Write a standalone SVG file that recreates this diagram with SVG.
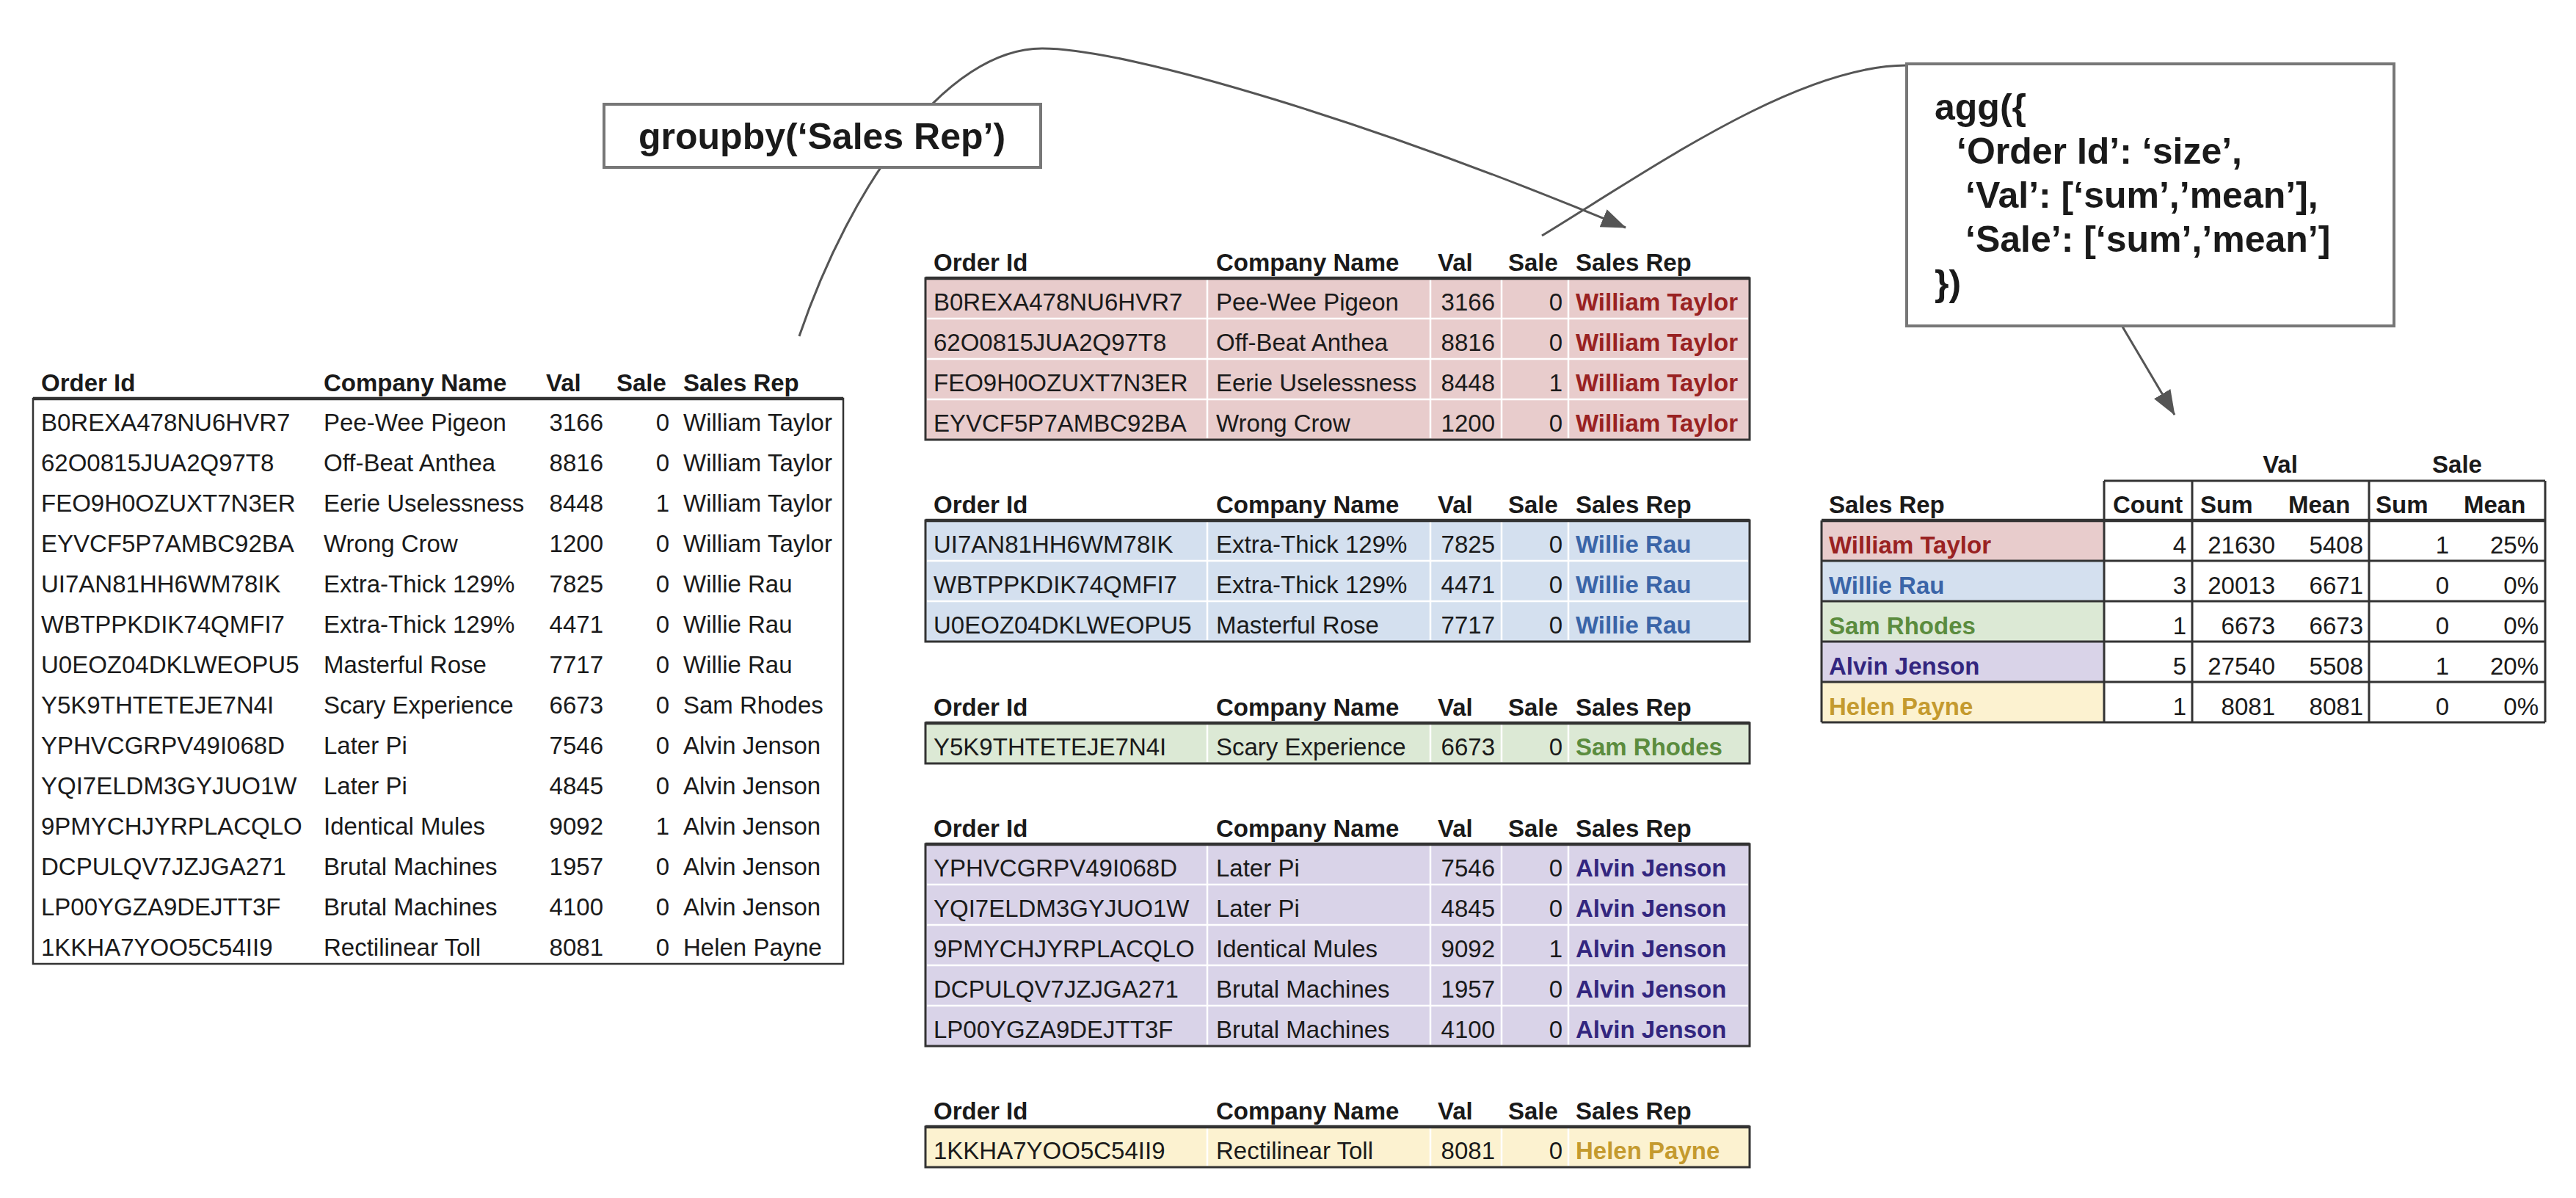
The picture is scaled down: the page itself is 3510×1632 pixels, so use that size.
<svg xmlns="http://www.w3.org/2000/svg" width="3510" height="1632" viewBox="0 0 3510 1632">
<style>
text{font-family:"Liberation Sans",Arial,Helvetica,sans-serif;font-size:33px;fill:#1a1a1a}
.h{font-weight:bold}
.e{text-anchor:end}
.m{text-anchor:middle}
.code{font-weight:bold;font-size:50px}
.wt{fill:#992222;font-weight:bold}
.wr{fill:#3a65a8;font-weight:bold}
.sr{fill:#5b8c3e;font-weight:bold}
.aj{fill:#33267f;font-weight:bold}
.hp{fill:#c49a2e;font-weight:bold}
.frame{fill:none;stroke:#333;stroke-width:3}
.top{stroke:#333;stroke-width:4.5}
.wl{stroke:#fff;stroke-width:2.5}
.dl{stroke:#333;stroke-width:3}
.conn{fill:none;stroke:#555;stroke-width:3}
.opbox{fill:#fff;stroke:#777;stroke-width:4}
</style>
<defs>
<marker id="arrow" markerUnits="userSpaceOnUse" markerWidth="34" markerHeight="26" viewBox="0 0 34 26" refX="33" refY="13" orient="auto">
<path d="M0,0 L34,13 L0,26 z" fill="#555"/>
</marker>
</defs>
<rect width="3510" height="1632" fill="#fff"/>

<g id="connectors">
<path class="conn" d="M1089,458 C1160,250 1290,66 1420,66 C1540,66 1880,170 2215,310" marker-end="url(#arrow)"/>
<path class="conn" d="M2101,321 C2250,230 2450,89 2598,89"/>
<path class="conn" d="M2892,445 L2963,565" marker-end="url(#arrow)"/>
</g>

<g id="groupby-box">
<rect class="opbox" x="823" y="142" width="595" height="86"/>
<text class="code" x="870" y="203">groupby(‘Sales Rep’)</text>
</g>

<g id="agg-box">
<rect class="opbox" x="2598" y="87" width="664" height="357"/>
<text class="code" x="2636" y="163">agg({</text>
<text class="code" x="2666" y="223">‘Order Id’: ‘size’,</text>
<text class="code" x="2678" y="283">‘Val’: [‘sum’,’mean’],</text>
<text class="code" x="2678" y="343">‘Sale’: [‘sum’,’mean’]</text>
<text class="code" x="2636" y="403">})</text>
</g>

<g id="source-table">
<rect x="45" y="543" width="1104" height="770" fill="#fff" stroke="#333" stroke-width="2.5"/>
<line class="top" x1="45" y1="543" x2="1149" y2="543" stroke-width="3"/>
<text class="h" x="56" y="533">Order Id</text>
<text class="h" x="441" y="533">Company Name</text>
<text class="h" x="744" y="533">Val</text>
<text class="h" x="840" y="533">Sale</text>
<text class="h" x="931" y="533">Sales Rep</text>
<text x="56"><tspan x="56" y="587">B0REXA478NU6HVR7</tspan><tspan x="56" y="642">62O0815JUA2Q97T8</tspan><tspan x="56" y="697">FEO9H0OZUXT7N3ER</tspan><tspan x="56" y="752">EYVCF5P7AMBC92BA</tspan><tspan x="56" y="807">UI7AN81HH6WM78IK</tspan><tspan x="56" y="862">WBTPPKDIK74QMFI7</tspan><tspan x="56" y="917">U0EOZ04DKLWEOPU5</tspan><tspan x="56" y="972">Y5K9THTETEJE7N4I</tspan><tspan x="56" y="1027">YPHVCGRPV49I068D</tspan><tspan x="56" y="1082">YQI7ELDM3GYJUO1W</tspan><tspan x="56" y="1137">9PMYCHJYRPLACQLO</tspan><tspan x="56" y="1192">DCPULQV7JZJGA271</tspan><tspan x="56" y="1247">LP00YGZA9DEJTT3F</tspan><tspan x="56" y="1302">1KKHA7YOO5C54II9</tspan></text>
<text x="441"><tspan x="441" y="587">Pee-Wee Pigeon</tspan><tspan x="441" y="642">Off-Beat Anthea</tspan><tspan x="441" y="697">Eerie Uselessness</tspan><tspan x="441" y="752">Wrong Crow</tspan><tspan x="441" y="807">Extra-Thick 129%</tspan><tspan x="441" y="862">Extra-Thick 129%</tspan><tspan x="441" y="917">Masterful Rose</tspan><tspan x="441" y="972">Scary Experience</tspan><tspan x="441" y="1027">Later Pi</tspan><tspan x="441" y="1082">Later Pi</tspan><tspan x="441" y="1137">Identical Mules</tspan><tspan x="441" y="1192">Brutal Machines</tspan><tspan x="441" y="1247">Brutal Machines</tspan><tspan x="441" y="1302">Rectilinear Toll</tspan></text>
<text class="e"><tspan x="822" y="587">3166</tspan><tspan x="822" y="642">8816</tspan><tspan x="822" y="697">8448</tspan><tspan x="822" y="752">1200</tspan><tspan x="822" y="807">7825</tspan><tspan x="822" y="862">4471</tspan><tspan x="822" y="917">7717</tspan><tspan x="822" y="972">6673</tspan><tspan x="822" y="1027">7546</tspan><tspan x="822" y="1082">4845</tspan><tspan x="822" y="1137">9092</tspan><tspan x="822" y="1192">1957</tspan><tspan x="822" y="1247">4100</tspan><tspan x="822" y="1302">8081</tspan></text>
<text class="e"><tspan x="912" y="587">0</tspan><tspan x="912" y="642">0</tspan><tspan x="912" y="697">1</tspan><tspan x="912" y="752">0</tspan><tspan x="912" y="807">0</tspan><tspan x="912" y="862">0</tspan><tspan x="912" y="917">0</tspan><tspan x="912" y="972">0</tspan><tspan x="912" y="1027">0</tspan><tspan x="912" y="1082">0</tspan><tspan x="912" y="1137">1</tspan><tspan x="912" y="1192">0</tspan><tspan x="912" y="1247">0</tspan><tspan x="912" y="1302">0</tspan></text>
<text x="931"><tspan x="931" y="587">William Taylor</tspan><tspan x="931" y="642">William Taylor</tspan><tspan x="931" y="697">William Taylor</tspan><tspan x="931" y="752">William Taylor</tspan><tspan x="931" y="807">Willie Rau</tspan><tspan x="931" y="862">Willie Rau</tspan><tspan x="931" y="917">Willie Rau</tspan><tspan x="931" y="972">Sam Rhodes</tspan><tspan x="931" y="1027">Alvin Jenson</tspan><tspan x="931" y="1082">Alvin Jenson</tspan><tspan x="931" y="1137">Alvin Jenson</tspan><tspan x="931" y="1192">Alvin Jenson</tspan><tspan x="931" y="1247">Alvin Jenson</tspan><tspan x="931" y="1302">Helen Payne</tspan></text>
</g>

<g id="group-william-taylor">
<rect x="1261" y="379" width="1123" height="220" fill="#e8cccc"/>
<path class="wl" d="M1645,381V597M1949,381V597M2046,381V597M2137,381V597M1263,434H2382M1263,489H2382M1263,544H2382"/>
<rect class="frame" x="1261" y="379" width="1123" height="220"/>
<line class="top" x1="1261" y1="379" x2="2384" y2="379"/>
<text class="h" x="1272" y="369">Order Id</text><text class="h" x="1657" y="369">Company Name</text><text class="h" x="1959" y="369">Val</text><text class="h" x="2055" y="369">Sale</text><text class="h" x="2147" y="369">Sales Rep</text>
<text x="1272" y="423">B0REXA478NU6HVR7</text><text x="1657" y="423">Pee-Wee Pigeon</text><text class="e" x="2037" y="423">3166</text><text class="e" x="2129" y="423">0</text><text class="wt" x="2147" y="423">William Taylor</text>
<text x="1272" y="478">62O0815JUA2Q97T8</text><text x="1657" y="478">Off-Beat Anthea</text><text class="e" x="2037" y="478">8816</text><text class="e" x="2129" y="478">0</text><text class="wt" x="2147" y="478">William Taylor</text>
<text x="1272" y="533">FEO9H0OZUXT7N3ER</text><text x="1657" y="533">Eerie Uselessness</text><text class="e" x="2037" y="533">8448</text><text class="e" x="2129" y="533">1</text><text class="wt" x="2147" y="533">William Taylor</text>
<text x="1272" y="588">EYVCF5P7AMBC92BA</text><text x="1657" y="588">Wrong Crow</text><text class="e" x="2037" y="588">1200</text><text class="e" x="2129" y="588">0</text><text class="wt" x="2147" y="588">William Taylor</text>
</g>

<g id="group-willie-rau">
<rect x="1261" y="709" width="1123" height="165" fill="#d4e0ef"/>
<path class="wl" d="M1645,711V872M1949,711V872M2046,711V872M2137,711V872M1263,764H2382M1263,819H2382"/>
<rect class="frame" x="1261" y="709" width="1123" height="165"/>
<line class="top" x1="1261" y1="709" x2="2384" y2="709"/>
<text class="h" x="1272" y="699">Order Id</text><text class="h" x="1657" y="699">Company Name</text><text class="h" x="1959" y="699">Val</text><text class="h" x="2055" y="699">Sale</text><text class="h" x="2147" y="699">Sales Rep</text>
<text x="1272" y="753">UI7AN81HH6WM78IK</text><text x="1657" y="753">Extra-Thick 129%</text><text class="e" x="2037" y="753">7825</text><text class="e" x="2129" y="753">0</text><text class="wr" x="2147" y="753">Willie Rau</text>
<text x="1272" y="808">WBTPPKDIK74QMFI7</text><text x="1657" y="808">Extra-Thick 129%</text><text class="e" x="2037" y="808">4471</text><text class="e" x="2129" y="808">0</text><text class="wr" x="2147" y="808">Willie Rau</text>
<text x="1272" y="863">U0EOZ04DKLWEOPU5</text><text x="1657" y="863">Masterful Rose</text><text class="e" x="2037" y="863">7717</text><text class="e" x="2129" y="863">0</text><text class="wr" x="2147" y="863">Willie Rau</text>
</g>

<g id="group-sam-rhodes">
<rect x="1261" y="985" width="1123" height="55" fill="#dce9d5"/>
<path class="wl" d="M1645,987V1038M1949,987V1038M2046,987V1038M2137,987V1038"/>
<rect class="frame" x="1261" y="985" width="1123" height="55"/>
<line class="top" x1="1261" y1="985" x2="2384" y2="985"/>
<text class="h" x="1272" y="975">Order Id</text><text class="h" x="1657" y="975">Company Name</text><text class="h" x="1959" y="975">Val</text><text class="h" x="2055" y="975">Sale</text><text class="h" x="2147" y="975">Sales Rep</text>
<text x="1272" y="1029">Y5K9THTETEJE7N4I</text><text x="1657" y="1029">Scary Experience</text><text class="e" x="2037" y="1029">6673</text><text class="e" x="2129" y="1029">0</text><text class="sr" x="2147" y="1029">Sam Rhodes</text>
</g>

<g id="group-alvin-jenson">
<rect x="1261" y="1150" width="1123" height="275" fill="#d9d3e8"/>
<path class="wl" d="M1645,1152V1423M1949,1152V1423M2046,1152V1423M2137,1152V1423M1263,1205H2382M1263,1260H2382M1263,1315H2382M1263,1370H2382"/>
<rect class="frame" x="1261" y="1150" width="1123" height="275"/>
<line class="top" x1="1261" y1="1150" x2="2384" y2="1150"/>
<text class="h" x="1272" y="1140">Order Id</text><text class="h" x="1657" y="1140">Company Name</text><text class="h" x="1959" y="1140">Val</text><text class="h" x="2055" y="1140">Sale</text><text class="h" x="2147" y="1140">Sales Rep</text>
<text x="1272" y="1194">YPHVCGRPV49I068D</text><text x="1657" y="1194">Later Pi</text><text class="e" x="2037" y="1194">7546</text><text class="e" x="2129" y="1194">0</text><text class="aj" x="2147" y="1194">Alvin Jenson</text>
<text x="1272" y="1249">YQI7ELDM3GYJUO1W</text><text x="1657" y="1249">Later Pi</text><text class="e" x="2037" y="1249">4845</text><text class="e" x="2129" y="1249">0</text><text class="aj" x="2147" y="1249">Alvin Jenson</text>
<text x="1272" y="1304">9PMYCHJYRPLACQLO</text><text x="1657" y="1304">Identical Mules</text><text class="e" x="2037" y="1304">9092</text><text class="e" x="2129" y="1304">1</text><text class="aj" x="2147" y="1304">Alvin Jenson</text>
<text x="1272" y="1359">DCPULQV7JZJGA271</text><text x="1657" y="1359">Brutal Machines</text><text class="e" x="2037" y="1359">1957</text><text class="e" x="2129" y="1359">0</text><text class="aj" x="2147" y="1359">Alvin Jenson</text>
<text x="1272" y="1414">LP00YGZA9DEJTT3F</text><text x="1657" y="1414">Brutal Machines</text><text class="e" x="2037" y="1414">4100</text><text class="e" x="2129" y="1414">0</text><text class="aj" x="2147" y="1414">Alvin Jenson</text>
</g>

<g id="group-helen-payne">
<rect x="1261" y="1535" width="1123" height="55" fill="#fcf2d0"/>
<path class="wl" d="M1645,1537V1588M1949,1537V1588M2046,1537V1588M2137,1537V1588"/>
<rect class="frame" x="1261" y="1535" width="1123" height="55"/>
<line class="top" x1="1261" y1="1535" x2="2384" y2="1535"/>
<text class="h" x="1272" y="1525">Order Id</text><text class="h" x="1657" y="1525">Company Name</text><text class="h" x="1959" y="1525">Val</text><text class="h" x="2055" y="1525">Sale</text><text class="h" x="2147" y="1525">Sales Rep</text>
<text x="1272" y="1579">1KKHA7YOO5C54II9</text><text x="1657" y="1579">Rectilinear Toll</text><text class="e" x="2037" y="1579">8081</text><text class="e" x="2129" y="1579">0</text><text class="hp" x="2147" y="1579">Helen Payne</text>
</g>

<g id="result-table">
<rect x="2482" y="709" width="385" height="55" fill="#e8cccc"/>
<rect x="2482" y="764" width="385" height="55" fill="#d4e0ef"/>
<rect x="2482" y="819" width="385" height="55" fill="#dce9d5"/>
<rect x="2482" y="874" width="385" height="55" fill="#d9d3e8"/>
<rect x="2482" y="929" width="385" height="55" fill="#fcf2d0"/>
<path class="dl" d="M2867,655H3468M2482,764H3468M2482,819H3468M2482,874H3468M2482,929H3468M2482,984H3468M2482,709V984M2867,655V984M2987,655V984M3228,655V984M3468,655V984"/>
<line class="top" x1="2482" y1="709" x2="3468" y2="709"/>
<text class="h m" x="3107" y="644">Val</text>
<text class="h m" x="3348" y="644">Sale</text>
<text class="h" x="2492" y="699">Sales Rep</text>
<text class="h" x="2879" y="699">Count</text>
<text class="h" x="2998" y="699">Sum</text>
<text class="h" x="3118" y="699">Mean</text>
<text class="h" x="3237" y="699">Sum</text>
<text class="h" x="3357" y="699">Mean</text>
<text class="wt" x="2492" y="754">William Taylor</text><text class="e" x="2979" y="754">4</text><text class="e" x="3100" y="754">21630</text><text class="e" x="3220" y="754">5408</text><text class="e" x="3337" y="754">1</text><text class="e" x="3459" y="754">25%</text>
<text class="wr" x="2492" y="809">Willie Rau</text><text class="e" x="2979" y="809">3</text><text class="e" x="3100" y="809">20013</text><text class="e" x="3220" y="809">6671</text><text class="e" x="3337" y="809">0</text><text class="e" x="3459" y="809">0%</text>
<text class="sr" x="2492" y="864">Sam Rhodes</text><text class="e" x="2979" y="864">1</text><text class="e" x="3100" y="864">6673</text><text class="e" x="3220" y="864">6673</text><text class="e" x="3337" y="864">0</text><text class="e" x="3459" y="864">0%</text>
<text class="aj" x="2492" y="919">Alvin Jenson</text><text class="e" x="2979" y="919">5</text><text class="e" x="3100" y="919">27540</text><text class="e" x="3220" y="919">5508</text><text class="e" x="3337" y="919">1</text><text class="e" x="3459" y="919">20%</text>
<text class="hp" x="2492" y="974">Helen Payne</text><text class="e" x="2979" y="974">1</text><text class="e" x="3100" y="974">8081</text><text class="e" x="3220" y="974">8081</text><text class="e" x="3337" y="974">0</text><text class="e" x="3459" y="974">0%</text>
</g>
</svg>
